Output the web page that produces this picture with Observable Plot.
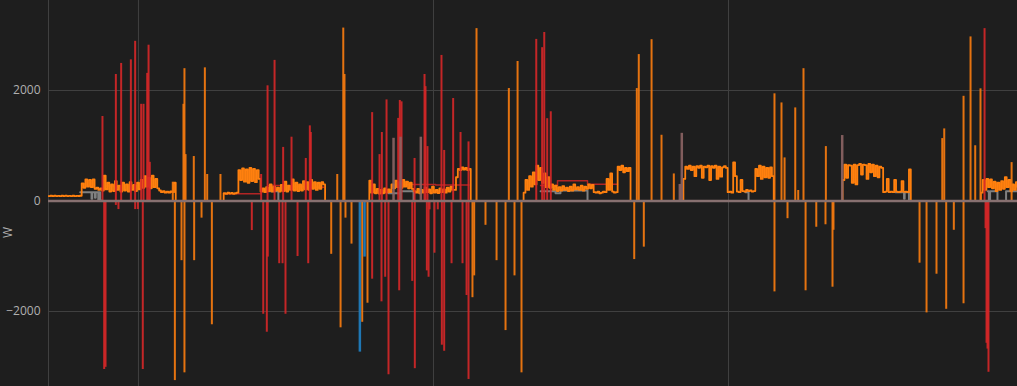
<!DOCTYPE html>
<html><head><meta charset="utf-8">
<script src="https://cdn.jsdelivr.net/npm/d3@7"></script>
<script src="https://cdn.jsdelivr.net/npm/@observablehq/plot@0.6"></script>
<style>html,body{margin:0;padding:0;background:#1e1e1e;overflow:hidden}</style>
</head><body><div id="chart"></div>
<script>
// time in hours since start, power in W
const yTicks = [-2000, 0, 2000];
const dayLines = [0, 7.32, 31.32, 55.32];

const loadStarts = [0, 14.1, 25.95, 38.5, 51.5, 64.45, 75.7];
const loadStep = 0.15;
const loadSeg0 = [90, 95, 88, 96, 90, 94, 88, 95, 90, 96, 89, 94, 90, 95, 88, 94, 91, 95,
  320, 240, 390, 260, 380, 250, 390, 220, 240, 200, 230, 190, 460, 210, 330, 170, 300, 180, 360, 200,
  280, 170, 330, 190, 300, 170, 340, 200, 290, 180, 330, 210, 380, 240, 450, 260, 420, 230, 460, 250,
  400, 230, 190, 160, 180, 150, 170, 150, 175, 160, 330, 0];
const loadSeg1 = [0, 140, 130, 150, 135, 145, 130, 140, 150, 560, 380, 590, 350, 570, 330, 600, 360, 580, 340, 560, 400,
  170, 230, 160, 250, 180, 300, 170, 260, 190, 240, 170, 290, 180, 350, 170, 280, 200, 390, 190, 330,
  180, 300, 190, 360, 210, 340, 200, 380, 220, 340, 200, 330, 220, 340, 300, 0];
const loadSeg2 = [0, 370, 150, 300, 140, 220, 135, 200, 140, 230, 150, 210, 160, 300, 230, 370, 250, 340, 240, 380, 260,
  350, 230, 330, 220, 180, 150, 220, 140, 200, 150, 240, 160, 210, 140, 260, 150, 200, 145, 230, 160,
  210, 150, 240, 170, 260, 200, 200, 430, 580, 560, 610, 570, 600, 560, 580, 0];
const loadSeg3 = [0, 150, 380, 200, 450, 260, 520, 300, 640, 380, 600, 330, 500, 250, 430, 240, 300, 200, 280, 180, 250,
  190, 270, 200, 240, 180, 260, 190, 300, 210, 250, 200, 280, 190, 260, 220, 300, 230, 290, 160, 150,
  170, 140, 150, 170, 160, 400, 200, 500, 170, 150, 160, 620, 560, 640, 520, 600, 540, 600, 0];
const loadSeg4 = [0, 400, 620, 580, 640, 560, 620, 450, 630, 600, 640, 420, 620, 610, 640, 380, 630, 600, 640, 400, 620,
  440, 610, 630, 600, 160, 170, 150, 700, 450, 170, 160, 380, 180, 170, 200, 180, 190, 170, 180, 580,
  450, 640, 400, 620, 430, 600, 420, 610, 450, 0];
const loadSeg5 = [0, 380, 660, 420, 650, 640, 330, 660, 300, 650, 670, 480, 660, 650, 400, 670, 520, 660, 450, 640, 430,
  620, 600, 160, 170, 400, 160, 170, 160, 380, 170, 160, 170, 360, 165, 170, 160, 570, 0];
const loadSeg6 = [0, 150, 380, 200, 400, 250, 390, 230, 350, 180, 330, 200, 360, 220, 430, 250, 380, 180, 300, 200, 340, 250];
const loadSegs = [loadSeg0, loadSeg1, loadSeg2, loadSeg3, loadSeg4, loadSeg5, loadSeg6];

const redLevelT = [4.7, 5.9, 14.24, 17.3, 17.9, 19.5, 21.0, 22.4, 29.0, 31.5, 34.2, 40.03, 41.41, 43.85, 46.29, 78.3, 78.83];
const redLevelW = [270, 270, 130, 130, 280, 260, 250, 250, 300, 290, 290, 280, 365, 305, 305, 280, 280];
const redLevelSeg = [0, 0, 1, 1, 2, 2, 2, 2, 3, 3, 3, 4, 4, 4, 4, 5, 5];

const grayLevelT = [2.58, 3.5, 3.56, 3.78, 3.84, 4.05, 4.1, 4.2, 4.25, 17.82, 18.7, 27.66, 28.6, 29.7,
  40.03, 41.25, 41.65, 43.85, 56.7, 56.95, 68.9, 69.6, 69.65, 70.0, 76.4, 76.5, 76.6, 77.2, 77.9, 78.83];
const grayLevelW = [160, 40, 160, 60, 160, 20, 160, 20, 0, 177, 0, 140, 177, 0,
  177, 141, 190, 0, 160, 0, 160, 40, 160, 0, 177, 0, 177, 0, 177, 177];
const grayLevelSeg = [0, 0, 0, 0, 0, 0, 0, 0, 0, 1, 1, 2, 2, 2, 3, 3, 3, 3, 4, 4, 5, 5, 5, 5, 6, 6, 6, 6, 6, 6];

const redSpikeT = [4.39, 4.53, 4.64, 5.48, 5.48, 5.69, 5.91, 6.70, 7.05, 7.05, 7.27, 7.54, 7.67, 7.73, 8.03, 8.14, 8.24,
  16.54, 17.30, 17.47, 17.76, 17.82, 17.84, 18.39, 18.77, 19.04, 19.09, 19.28, 19.77, 20.26, 20.93, 21.13, 21.26, 21.34,
  26.33, 26.33, 26.93, 27.09, 27.12, 27.39, 27.50, 27.66, 28.45, 28.53, 28.58, 28.72, 29.59, 29.78, 29.80, 30.59, 30.67,
  30.78, 30.83, 30.92, 31.00, 31.40, 31.67, 31.97, 32.00, 32.19, 32.19, 32.79, 32.92, 33.52, 33.68, 34.01, 34.17, 34.17,
  39.68, 40.16, 40.33, 40.57, 40.86, 76.15, 76.23, 76.31, 76.39, 76.47];
const redSpikeW = [1530, -3050, -3010, 2290, -80, -155, 2490, 2555, 2890, -155, -155, 1750, -3050, 1750, 2310, 2820, 700,
  -535, 480, -2050, -2375, 2085, -1015, 2545, -1135, -1135, 970, -2050, 1155, -1005, 770, -1135, 1360, 1240,
  1600, -1415, 840, -1825, 1240, -1380, 1830, -3145, 1495, -1625, 1820, 1795, -1455, 770, -3035, 2290, 2070,
  -1265, 985, -1380, -160, -945, -160, 2635, -2610, 915, -2720, -1135, 1855, 1240, -1135, -1710, 1070, -3230,
  2925, 2775, 3050, 1490, 1615, 3120, -500, -2575, -2680, -3100];

const orangeSpikeT = [10.11, 10.28, 10.82, 10.98, 11.06, 11.06, 11.15, 11.82, 11.85, 12.45, 12.72, 12.91, 13.29, 13.99,
  23.00, 23.49, 23.76, 23.98, 24.08, 24.16, 24.65, 25.52, 25.95,
  34.49, 34.63, 34.82, 35.55, 36.45, 37.18, 37.45, 37.91, 38.16, 38.48,
  47.65, 47.86, 48.02, 48.43, 49.06, 49.87, 50.87,
  59.06, 59.06, 59.63, 59.88, 60.12, 60.75, 60.99, 61.42, 61.59, 62.46, 63.21, 63.24, 63.78, 63.86,
  70.86, 71.43, 72.24, 72.71, 72.87, 73.03, 73.65, 74.44, 74.44, 75.01, 75.39, 75.82, 78.35];
const orangeSpikeW = [340, -3250, -1080, 1750, 2395, -3110, 840, 805, -1080, -310, 2410, 480, -2240, 480,
  -965, 480, -2295, 3130, 2290, -310, -780, -2195, -1850,
  -1750, -1355, 3120, -440, -1080, -2345, 2035, -1355, 2525, -3110,
  -1060, 2035, 2650, -835, 2920, 1190, 490,
  1940, -1645, 1775, 780, -320, 1685, 190, 2395, -1625, -475, -430, 985, -1560, -530,
  -1125, -2025, -1325, 1130, 1305, -1960, -530, 1895, -1860, 2970, 1000, 2030, 695];

const blueSpikeT = [25.33, 25.71];
const blueSpikeW = [-2735, -1015];

const brownSpikeT = [28.07, 28.64, 30.29, 51.36, 51.52, 64.57];
const brownSpikeW = [1135, 1155, 1155, 300, 1225, 1185];

// build tables
const loadRows = loadSegs.flatMap((vals, s) => vals.map((w, i) => ({t: loadStarts[s] + i * loadStep, w, seg: s})));
const pairs = (T, W, S) => T.map((t, i) => ({t, w: W[i], seg: S ? S[i] : 0}));
const redLevel = pairs(redLevelT, redLevelW, redLevelSeg);
const grayLevel = pairs(grayLevelT, grayLevelW, grayLevelSeg);
const redSpikes = pairs(redSpikeT, redSpikeW);
const orangeSpikes = pairs(orangeSpikeT, orangeSpikeW);
const blueSpikes = pairs(blueSpikeT, blueSpikeW);
const brownSpikes = pairs(brownSpikeT, brownSpikeW);

const chart = Plot.plot({
  width: 1017,
  height: 386,
  marginLeft: 48,
  marginRight: 0,
  marginTop: 0,
  marginBottom: -78,
  style: {background: "#1e1e1e", color: "#b0b0b0", fontFamily: "'Open Sans', sans-serif", fontSize: "12px"},
  x: {domain: [0, 78.83], axis: null},
  y: {domain: [-4769, 3629], ticks: yTicks, tickSize: 0, tickPadding: 8, tickFormat: d3.format("d"),
      label: "W", labelAnchor: "center", labelOffset: 45, labelArrow: "none"},
  marks: [
    Plot.ruleY(yTicks, {stroke: "#404040", strokeWidth: 1}),
    Plot.ruleX(dayLines, {stroke: "#404040", strokeWidth: 1}),
    Plot.line(grayLevel, {x: "t", y: "w", z: "seg", curve: "step-after", stroke: "#808080", strokeWidth: 2, clip: true}),
    Plot.line(redLevel, {x: "t", y: "w", z: "seg", curve: "step-after", stroke: "#b22424", strokeWidth: 1.5, clip: true}),
    Plot.line(loadRows, {x: "t", y: "w", z: "seg", curve: "step-after", stroke: "#ff800e", strokeWidth: 1.8, clip: true}),
    Plot.ruleX(orangeSpikes, {x: "t", y1: 0, y2: "w", stroke: "#f07810", strokeWidth: 2, strokeOpacity: 0.95}),
    Plot.ruleX(redSpikes, {x: "t", y1: 0, y2: "w", stroke: "#d62728", strokeWidth: 2, strokeOpacity: 0.9}),
    Plot.ruleX(blueSpikes, {x: "t", y1: 0, y2: "w", stroke: "#1f77b4", strokeWidth: 2.5}),
    Plot.ruleX(brownSpikes, {x: "t", y1: 0, y2: "w", stroke: "#8c6464", strokeWidth: 2.5, strokeOpacity: 0.9}),
    Plot.ruleY([0], {stroke: "#877070", strokeWidth: 2.5})
  ]
});
document.getElementById("chart").append(chart);
</script>
</body></html>
